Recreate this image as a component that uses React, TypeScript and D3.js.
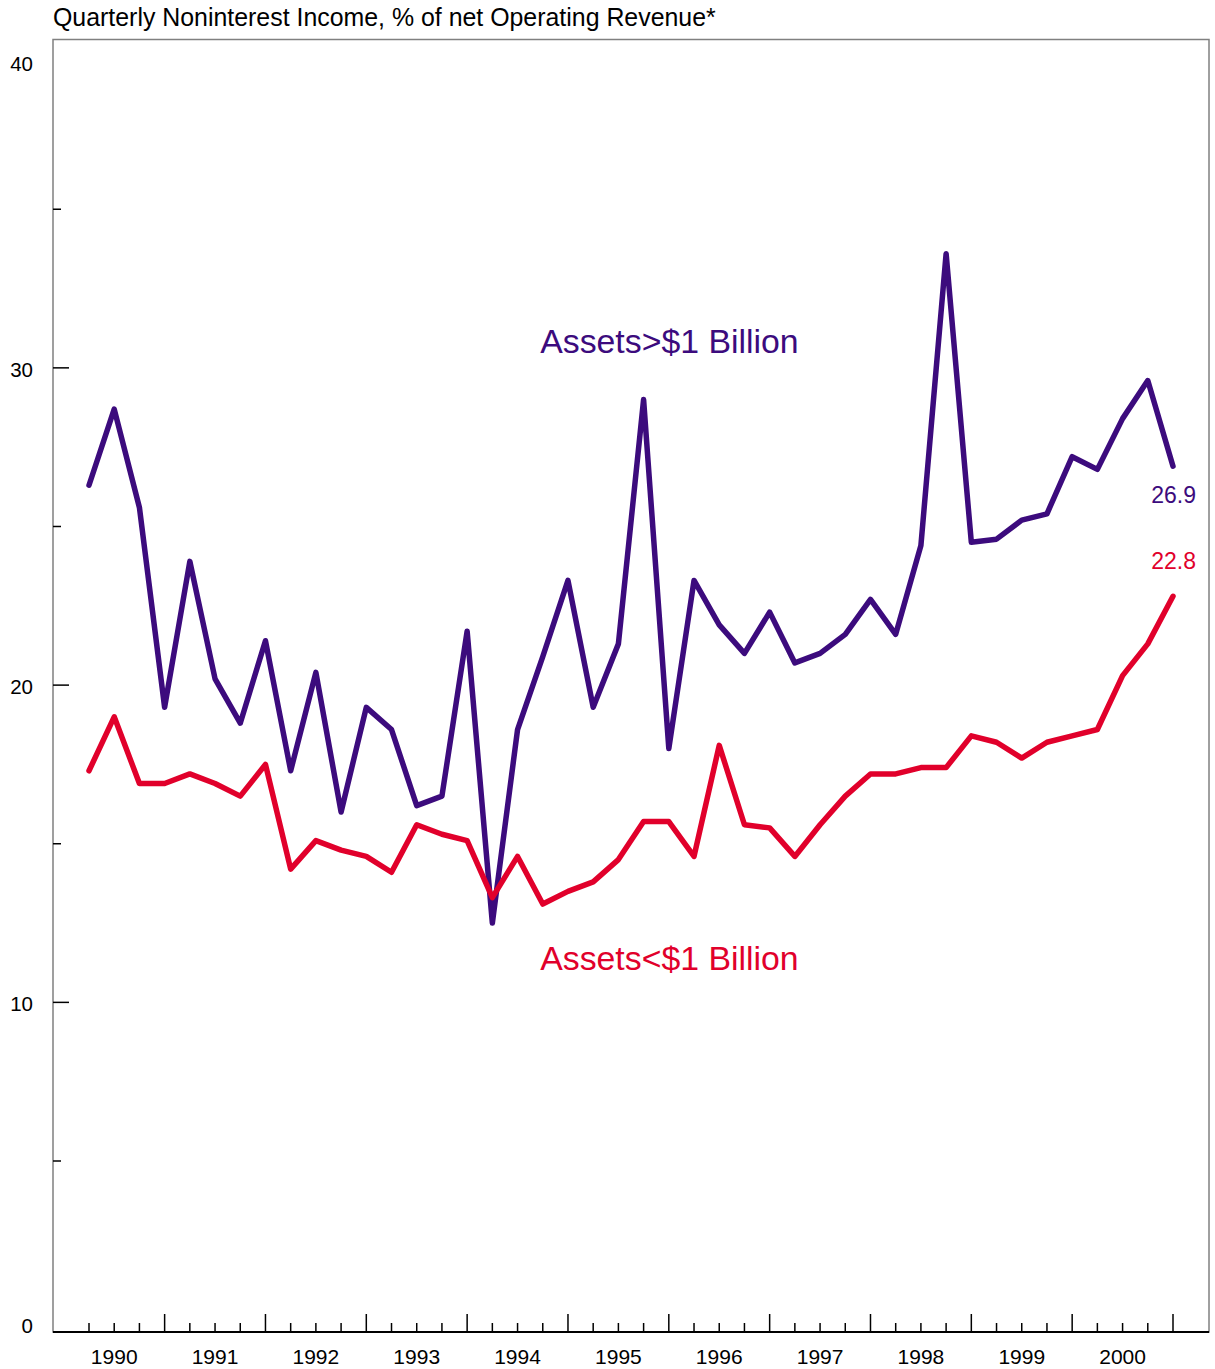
import * as d3 from 'd3'

// Quarterly noninterest income as % of net operating revenue (44 quarters)
const largeBanks = [
  26.3, 28.7, 25.6, 19.3, 23.9, 20.2, 18.8, 21.4, 17.3, 20.4, 16.0,
  19.3, 18.6, 16.2, 16.5, 21.7, 12.5, 18.6, 20.9, 23.3, 19.3, 21.3,
  29.0, 18.0, 23.3, 21.9, 21.0, 22.3, 20.7, 21.0, 21.6, 22.7, 21.6,
  24.4, 33.6, 24.5, 24.6, 25.2, 25.4, 27.2, 26.8, 28.4, 29.6, 26.9,
]
const smallBanks = [
  17.3, 19.0, 16.9, 16.9, 17.2, 16.9, 16.5, 17.5, 14.2, 15.1, 14.8,
  14.6, 14.1, 15.6, 15.3, 15.1, 13.3, 14.6, 13.1, 13.5, 13.8, 14.5,
  15.7, 15.7, 14.6, 18.1, 15.6, 15.5, 14.6, 15.6, 16.5, 17.2, 17.2,
  17.4, 17.4, 18.4, 18.2, 17.7, 18.2, 18.4, 18.6, 20.3, 21.3, 22.8,
]
const yearLabels = ['1990', '1991', '1992', '1993', '1994', '1995', '1996', '1997', '1998', '1999', '2000']
const yLabels = [0, 10, 20, 30, 40]
const yMajorTicks = [10, 20, 30]
const yMinorTicks = [5, 15, 25, 35]

const PURPLE = '#3c0b7d'
const RED = '#e1002b'
const FONT = 'Arial, "Liberation Sans", Helvetica, sans-serif'

const WIDTH = 1215
const HEIGHT = 1369
const FRAME = { left: 53, right: 1209, top: 39.5, bottom: 1332 }

export default function App() {
  const n = largeBanks.length
  const x = d3.scaleLinear().domain([0, n - 1]).range([89, 1173])
  const y = d3.scaleLinear().domain([-0.39, 40.35]).range([FRAME.bottom, FRAME.top])
  const line = d3
    .line<number>()
    .x((_, i) => x(i))
    .y((v) => y(v))

  const series = [
    { values: largeBanks, color: PURPLE, name: 'Assets>$1 Billion', at: [17.9, 30.46], labelDy: 37 },
    { values: smallBanks, color: RED, name: 'Assets<$1 Billion', at: [17.9, 11.02], labelDy: -27 },
  ]

  return (
    <svg
      width={WIDTH}
      height={HEIGHT}
      viewBox={`0 0 ${WIDTH} ${HEIGHT}`}
      style={{ position: 'absolute', left: 0, top: 0, background: '#fff' }}
      fontFamily={FONT}
    >
      <text x={FRAME.left} y={26} fontSize={24.9} fill="#000">
        Quarterly Noninterest Income, % of net Operating Revenue*
      </text>

      {/* frame */}
      <rect
        x={FRAME.left}
        y={FRAME.top}
        width={FRAME.right - FRAME.left}
        height={FRAME.bottom - FRAME.top}
        fill="none"
        stroke="#808080"
        strokeWidth={1.5}
      />
      <line x1={FRAME.left} x2={FRAME.right} y1={FRAME.bottom} y2={FRAME.bottom} stroke="#000" strokeWidth={2} />

      {/* y axis */}
      {yMajorTicks.map((t) => (
        <line key={`M${t}`} x1={FRAME.left} x2={FRAME.left + 16} y1={y(t)} y2={y(t)} stroke="#000" strokeWidth={1.5} />
      ))}
      {yMinorTicks.map((t) => (
        <line key={`m${t}`} x1={FRAME.left} x2={FRAME.left + 8} y1={y(t)} y2={y(t)} stroke="#000" strokeWidth={1.5} />
      ))}
      {yLabels.map((t) => (
        <text
          key={t}
          x={33}
          y={Math.max(y(t) + 9, 71) + (t === 0 ? 4 : 0)}
          fontSize={20.5}
          textAnchor="end"
          fill="#000"
        >
          {t}
        </text>
      ))}

      {/* x axis: a tick per quarter, taller at year breaks */}
      {d3.range(n).map((i) => {
        const major = i % 4 === 3
        return (
          <line
            key={i}
            x1={x(i)}
            x2={x(i)}
            y1={FRAME.bottom}
            y2={FRAME.bottom - (major ? 18 : 9)}
            stroke="#000"
            strokeWidth={1.5}
          />
        )
      })}
      {yearLabels.map((label, k) => (
        <text key={label} x={x(4 * k + 1)} y={1364} fontSize={21} textAnchor="middle" fill="#000">
          {label}
        </text>
      ))}

      {/* series */}
      {series.map((s) => (
        <g key={s.name}>
          <path
            d={line(s.values) ?? undefined}
            fill="none"
            stroke={s.color}
            strokeWidth={5.5}
            strokeLinejoin="round"
            strokeLinecap="round"
          />
          <text x={x(s.at[0])} y={y(s.at[1])} fontSize={33.8} fill={s.color}>
            {s.name}
          </text>
          <text
            x={x(n - 1) + 23}
            y={y(s.values[n - 1]) + s.labelDy}
            fontSize={23}
            textAnchor="end"
            fill={s.color}
          >
            {s.values[n - 1].toFixed(1)}
          </text>
        </g>
      ))}
    </svg>
  )
}
